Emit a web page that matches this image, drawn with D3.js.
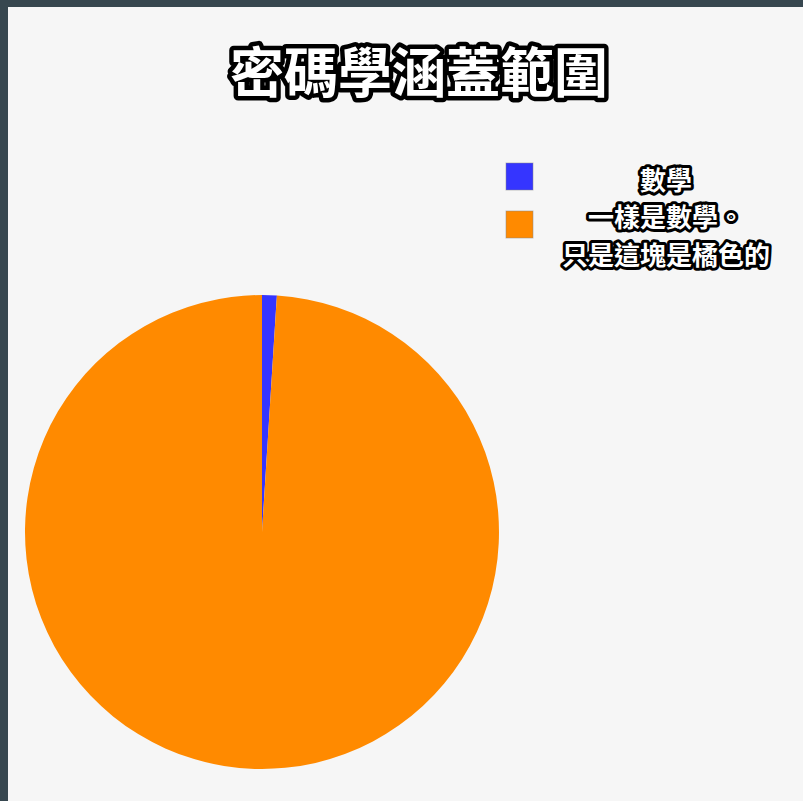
<!DOCTYPE html>
<html lang="zh-Hant">
<head>
<meta charset="UTF-8">
<title>密碼學涵蓋範圍</title>
<script src="https://cdn.jsdelivr.net/npm/d3@7"></script>
<style>
  body { margin: 0; background: #37474f; }
  svg { display: block; }
  .outlined {
    font-family: "Noto Sans CJK TC", "Noto Sans CJK SC", sans-serif;
    font-weight: 700;
    fill: #fff;
    stroke: #000;
    stroke-linejoin: round;
    paint-order: stroke;
  }
</style>
</head>
<body>
<script>
// data
const title = "密碼學涵蓋範圍";
const categories = ["數學", "一樣是數學。只是這塊是橘色的"];
const legendLines = [["數學"], ["一樣是數學。", "只是這塊是橘色的"]];
const values = [1, 99];
const colors = ["#3535ff", "#ff8a00"];

var width = 803, height = 801;
var cx = 262, cy = 532, radius = 237;

var svg = d3.select("body").append("svg")
  .attr("width", width)
  .attr("height", height);

// light panel inside the dark frame
svg.append("rect")
  .attr("x", 8).attr("y", 7)
  .attr("width", width - 8).attr("height", height - 7)
  .attr("fill", "#f6f6f6");

var color = d3.scaleOrdinal().domain(categories).range(colors);

var pie = d3.pie().sort(null).value(function(d) { return d.value; });
var arc = d3.arc().innerRadius(0).outerRadius(radius);

var rows = categories.map(function(c, i) { return { name: c, value: values[i] }; });

svg.append("g")
  .attr("transform", "translate(" + cx + "," + cy + ")")
  .selectAll("path")
  .data(pie(rows))
  .enter()
  .append("path")
  .attr("d", arc)
  .attr("fill", function(d) { return color(d.data.name); });

// title
svg.append("text")
  .attr("class", "outlined")
  .attr("x", 419)
  .attr("y", 69)
  .attr("text-anchor", "middle")
  .attr("dominant-baseline", "central")
  .style("font-size", "54px")
  .style("stroke-width", "9px")
  .text(title);

// legend
var legendTop = [163, 211];
var legend = svg.append("g");

categories.forEach(function(c, i) {
  legend.append("rect")
    .attr("x", 506)
    .attr("y", legendTop[i])
    .attr("width", 27)
    .attr("height", 27)
    .attr("fill", color(c))
    .attr("stroke", "#8a8a8a")
    .attr("stroke-opacity", 0.5)
    .attr("stroke-width", 1);
});

var lineY = [[178], [215, 253]];
legendLines.forEach(function(lines, i) {
  lines.forEach(function(t, j) {
    legend.append("text")
      .attr("class", "outlined")
      .attr("x", 666)
      .attr("y", lineY[i][j])
      .attr("text-anchor", "middle")
      .attr("dominant-baseline", "central")
      .style("font-size", "26px")
      .style("stroke-width", "6px")
      .text(t);
  });
});
</script>
</body>
</html>
